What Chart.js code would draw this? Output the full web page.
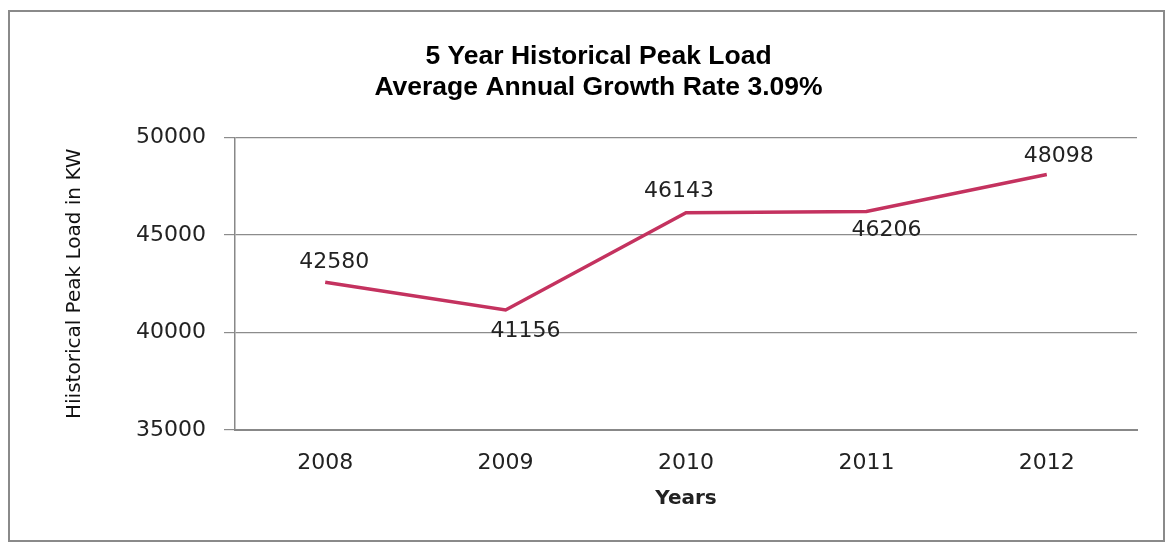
<!DOCTYPE html>
<html>
<head>
<meta charset="utf-8">
<script src="https://cdn.jsdelivr.net/npm/chart.js@4"></script>
<style>
  body { margin: 0; background: #fff; }
  #wrap { position: relative; width: 1171px; height: 542px; }
  #frame { position: absolute; left: 8px; top: 10px; width: 1153px; height: 528px; border: 2px solid #8a8a8a; pointer-events: none; }
</style>
</head>
<body>
<div id="wrap">
  <canvas id="peakLoadChart" width="1171" height="542"></canvas>
  <div id="frame"></div>
</div>
<script>
const years = ['2008', '2009', '2010', '2011', '2012'];
const peakLoad = [42580, 41156, 46143, 46206, 48098];
const yTicks = [35000, 40000, 45000, 50000];

// where each value label sits relative to its point (px)
const labelDx = [9, 20, -7, 20, 12];
const labelDy = [-20, 21, -21, 19, -18];

const pointLabels = {
  id: 'pointLabels',
  afterDatasetsDraw(chart) {
    const ctx = chart.ctx;
    const meta = chart.getDatasetMeta(0);
    ctx.save();
    ctx.font = '22px "DejaVu Sans"';
    ctx.fillStyle = '#222';
    ctx.textAlign = 'center';
    ctx.textBaseline = 'middle';
    meta.data.forEach((pt, i) => {
      ctx.fillText(String(peakLoad[i]), pt.x + labelDx[i], pt.y + labelDy[i]);
    });
    ctx.restore();
  }
};

function renderPeakLoadChart() {
  const ctx = document.getElementById('peakLoadChart').getContext('2d');
  new Chart(ctx, {
    type: 'line',
    data: {
      labels: years,
      datasets: [{
        data: peakLoad,
        borderColor: '#c4325f',
        backgroundColor: '#c4325f',
        borderWidth: 3.5,
        pointRadius: 0,
        tension: 0
      }]
    },
    plugins: [pointLabels],
    options: {
      responsive: false,
      animation: false,
      layout: { padding: { left: 60, right: 34, top: 0, bottom: 22 } },
      plugins: {
        legend: { display: false },
        tooltip: { enabled: false },
        title: {
          display: true,
          text: ['5 Year Historical Peak Load', 'Average Annual Growth Rate 3.09%'],
          color: '#000',
          font: { family: '"Liberation Sans", Arial', size: 26.5, weight: 'bold', lineHeight: 1.14 },
          padding: { top: 42, bottom: 35 }
        }
      },
      scales: {
        x: {
          offset: true,
          grid: { display: false, drawTicks: false },
          border: { display: true, color: '#888', width: 2 },
          ticks: { color: '#222', padding: 20, font: { family: '"DejaVu Sans"', size: 22 } },
          title: {
            display: true,
            text: 'Years',
            color: '#222',
            font: { family: '"DejaVu Sans"', size: 20, weight: 'bold' },
            padding: { top: 4, bottom: 9 }
          },
          afterFit(scale) { scale.height = 90; }
        },
        y: {
          min: 35000,
          max: 50000,
          afterBuildTicks(scale) { scale.ticks = yTicks.map(v => ({ value: v })); },
          grid: { color: '#8c8c8c', lineWidth: 1.2, tickLength: 11, drawTicks: true },
          border: { display: true, color: '#888', width: 1.5 },
          ticks: {
            color: '#222',
            padding: 18,
            font: { family: '"DejaVu Sans"', size: 22 },
            callback: v => String(v)
          },
          title: {
            display: true,
            text: 'Hiistorical Peak Load in KW',
            color: '#111',
            font: { family: '"DejaVu Sans"', size: 20 },
            padding: { top: 3, bottom: 0 }
          },
          afterFit(scale) { scale.width = 175; }
        }
      }
    }
  });
}

renderPeakLoadChart();
</script>
</body>
</html>
